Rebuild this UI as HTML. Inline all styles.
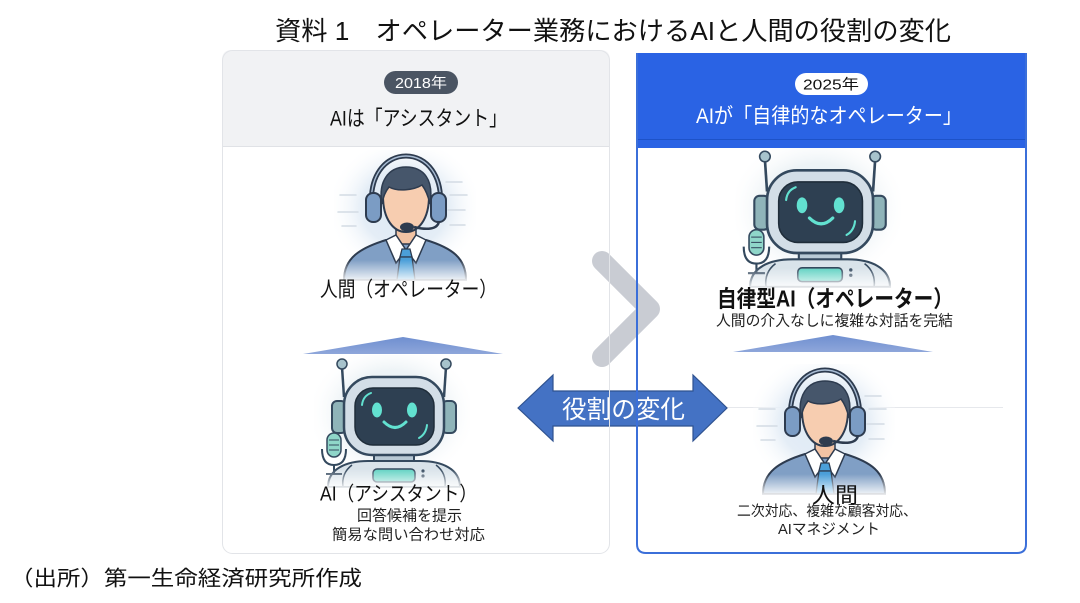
<!DOCTYPE html>
<html><head><meta charset="utf-8">
<style>
html,body{margin:0;padding:0;background:#fff;}
body{width:1080px;height:603px;overflow:hidden;}
svg{display:block;}
text{font-family:"Liberation Sans","Noto Sans CJK JP",sans-serif;}
</style></head>
<body>
<svg width="1080" height="603" viewBox="0 0 1080 603" xmlns="http://www.w3.org/2000/svg">
<defs>
  <radialGradient id="glowP" cx="50%" cy="45%" r="55%">
    <stop offset="0" stop-color="#dde9f4"/>
    <stop offset="0.55" stop-color="#e4edf6"/>
    <stop offset="1" stop-color="#ffffff" stop-opacity="0"/>
  </radialGradient>
  <radialGradient id="glowR" cx="50%" cy="45%" r="55%">
    <stop offset="0" stop-color="#e6eff3"/>
    <stop offset="0.6" stop-color="#edf3f6"/>
    <stop offset="1" stop-color="#ffffff" stop-opacity="0"/>
  </radialGradient>
  <linearGradient id="fade" x1="0" y1="0" x2="0" y2="1">
    <stop offset="0" stop-color="#ffffff" stop-opacity="0"/>
    <stop offset="1" stop-color="#ffffff" stop-opacity="0.95"/>
  </linearGradient>
  <linearGradient id="tri" x1="0" y1="0" x2="0" y2="1">
    <stop offset="0" stop-color="#6f8fd0"/>
    <stop offset="1" stop-color="#8ea6da"/>
  </linearGradient>

  <g id="person">
    <rect x="8" y="0" width="142" height="128" fill="url(#glowP)"/>
    <g stroke="#d3dbe4" stroke-width="1.5" stroke-linecap="round">
      <line x1="120" y1="32" x2="136" y2="32"/>
      <line x1="124" y1="45" x2="141" y2="45"/>
      <line x1="122" y1="60" x2="139" y2="60"/>
      <line x1="124" y1="75" x2="139" y2="75"/>
      <line x1="14" y1="45" x2="30" y2="45"/>
      <line x1="12" y1="62" x2="32" y2="62"/>
      <line x1="16" y1="76" x2="30" y2="76"/>
    </g>
    <path d="M18,130 C18,108 34,98 60,90 L100,90 C126,98 140,108 140,130 Z" fill="#809fc5" stroke="#2d3b4f" stroke-width="2"/>
    <path d="M70,78 L70,94 L90,94 L90,78 Z" fill="#f2c3a4" stroke="#2d3b4f" stroke-width="1.5"/>
    <polygon points="60,90 70,85 80,100 70,113" fill="#fff" stroke="#2d3b4f" stroke-width="1.5"/>
    <polygon points="100,90 90,85 80,100 90,113" fill="#fff" stroke="#2d3b4f" stroke-width="1.5"/>
    <polygon points="76,99 84,99 86,107 74,107" fill="#4b9fd9" stroke="#2d3b4f" stroke-width="1.3"/>
    <polygon points="74,107 86,107 89,130 71,130" fill="#4b9fd9" stroke="#2d3b4f" stroke-width="1.3"/>
    <path d="M57,46 C57,70 68,82 80,82 C92,82 103,70 103,46 C103,30 94,22 80,22 C66,22 57,30 57,46 Z" fill="#f7cdb0" stroke="#2d3b4f" stroke-width="2"/>
    <path d="M56,54 C52,32 62,17 80,17 C98,17 108,30 104,54 C102,45 99,39 96,35 C88,40 72,42 63,37 C59,42 57,47 56,54 Z" fill="#46566b" stroke="#2d3b4f" stroke-width="1.5"/>
    <path d="M46,60 C42,25 60,6 80,6 C100,6 118,25 114,60" fill="none" stroke="#2d3b4f" stroke-width="5"/>
    <path d="M46,60 C42,25 60,6 80,6 C100,6 118,25 114,60" fill="none" stroke="#a9bdd5" stroke-width="1.4"/>
    <rect x="40" y="43" width="15" height="29" rx="7" fill="#7b9cc4" stroke="#2d3b4f" stroke-width="2"/>
    <rect x="105" y="43" width="15" height="29" rx="7" fill="#7b9cc4" stroke="#2d3b4f" stroke-width="2"/>
    <path d="M113,71 C112,80 100,80 88,77" fill="none" stroke="#2d3b4f" stroke-width="2.5"/>
    <ellipse cx="81" cy="77" rx="7" ry="4.5" fill="#2d3b4f"/>
    <rect x="0" y="110" width="150" height="22" fill="url(#fade)"/>
  </g>

  <g id="robot">
    <rect x="4" y="0" width="156" height="130" fill="url(#glowR)"/>
    <line x1="32" y1="12" x2="34" y2="42" stroke="#34495e" stroke-width="2.5"/>
    <line x1="136" y1="12" x2="134" y2="42" stroke="#34495e" stroke-width="2.5"/>
    <circle cx="32" cy="9" r="5" fill="#a7c3cc" stroke="#34495e" stroke-width="1.5"/>
    <circle cx="136" cy="9" r="5" fill="#a7c3cc" stroke="#34495e" stroke-width="1.5"/>
    <rect x="22" y="46" width="14" height="32" rx="5" fill="#8fb4b9" stroke="#34495e" stroke-width="2"/>
    <rect x="132" y="46" width="14" height="32" rx="5" fill="#8fb4b9" stroke="#34495e" stroke-width="2"/>
    <rect x="64" y="96" width="40" height="14" fill="#b8c9d5" stroke="#34495e" stroke-width="2"/>
    <path d="M18,132 C18,114 36,106 58,106 L110,106 C132,106 150,114 150,132 Z" fill="#d9e3ea" stroke="#34495e" stroke-width="2"/>
    <path d="M42,110 C34,116 32,124 33,132" fill="none" stroke="#34495e" stroke-width="1.5"/>
    <path d="M126,110 C134,116 136,124 135,132" fill="none" stroke="#34495e" stroke-width="1.5"/>
    <rect x="63" y="114" width="42" height="13" rx="4" fill="#62d2c3" stroke="#34495e" stroke-width="1.5"/>
    <circle cx="113" cy="116" r="1.6" fill="#34495e"/>
    <circle cx="113" cy="121" r="1.6" fill="#34495e"/>
    <rect x="34" y="22" width="100" height="78" rx="28" fill="#d3dee7" stroke="#34495e" stroke-width="2.5"/>
    <rect x="45" y="33" width="79" height="57" rx="18" fill="#2e4052" stroke="#1f2d3a" stroke-width="1.5"/>
    <ellipse cx="67" cy="55" rx="5" ry="7.5" fill="#62e1d0"/>
    <ellipse cx="102" cy="55" rx="5" ry="7.5" fill="#62e1d0"/>
    <path d="M74,67 Q85,78 96,67" fill="none" stroke="#62e1d0" stroke-width="3" stroke-linecap="round"/>
    <path d="M52,50 Q53,41 61,38" fill="none" stroke="#62e1d0" stroke-width="2" stroke-linecap="round"/>
    <path d="M117,70 Q116,79 109,83" fill="none" stroke="#62e1d0" stroke-width="2" stroke-linecap="round"/>
    <path d="M12,94 Q12,110 24,110 Q36,110 36,94" fill="none" stroke="#34495e" stroke-width="2"/>
    <line x1="24" y1="110" x2="24" y2="119" stroke="#34495e" stroke-width="2"/>
    <line x1="16" y1="119" x2="32" y2="119" stroke="#34495e" stroke-width="2"/>
    <rect x="17" y="78" width="14" height="24" rx="7" fill="#8fd6c9" stroke="#34495e" stroke-width="1.5"/>
    <g stroke="#34495e" stroke-width="1"><line x1="19" y1="85" x2="29" y2="85"/><line x1="19" y1="90" x2="29" y2="90"/><line x1="19" y1="95" x2="29" y2="95"/></g>
    <rect x="0" y="114" width="160" height="20" fill="url(#fade)"/>
  </g>
</defs>

<rect width="1080" height="603" fill="#fff"/>

<!-- Title -->
<text x="275" y="40" font-size="26" fill="#111" textLength="676" lengthAdjust="spacingAndGlyphs" xml:space="preserve">資料 1　オペレーター業務におけるAIと人間の役割の変化</text>

<!-- Left panel -->
<rect x="222" y="50" width="388" height="504" rx="10" fill="#fff"/>
<path d="M222,146 L222,60 Q222,50 232,50 L600,50 Q610,50 610,60 L610,146 Z" fill="#f1f2f4"/>
<line x1="222" y1="146.5" x2="610" y2="146.5" stroke="#e0e2e6" stroke-width="1"/>

<!-- Right panel background -->
<path d="M636,53 L1027,53 L1027,544 Q1027,554 1017,554 L646,554 Q636,554 636,544 Z" fill="#fff"/>

<!-- faint line right panel -->
<line x1="640" y1="407.5" x2="1003" y2="407.5" stroke="#e6e8ec" stroke-width="1"/>

<!-- Triangles -->
<polygon points="303,354 403,337 503,354" fill="url(#tri)"/>
<polygon points="733,352 833,335 933,352" fill="url(#tri)"/>

<!-- Icons -->
<use href="#person" transform="translate(326,150)"/>
<use href="#robot" transform="translate(310,355)"/>
<use href="#robot" transform="translate(731,147) scale(1.06)"/>
<use href="#person" transform="translate(745,364)"/>

<!-- Right header (drawn after icons) -->
<rect x="636" y="53" width="391" height="95" fill="#2a63e4"/>
<line x1="636" y1="139.5" x2="1027" y2="139.5" stroke="#1d52c8" stroke-width="1"/>

<!-- Pills / headers -->
<rect x="384" y="71" width="74" height="23" rx="11.5" fill="#4b5563"/>
<text x="395" y="88" font-size="14.5" fill="#fff" textLength="52" lengthAdjust="spacingAndGlyphs">2018年</text>
<text x="330" y="125.5" font-size="21" fill="#111" textLength="177" lengthAdjust="spacingAndGlyphs">AIは「アシスタント」</text>

<rect x="795" y="73" width="73" height="22" rx="11" fill="#fff"/>
<text x="803" y="89.5" font-size="14.5" fill="#111" textLength="56" lengthAdjust="spacingAndGlyphs">2025年</text>
<text x="696" y="123" font-size="21" fill="#fff" textLength="266" lengthAdjust="spacingAndGlyphs">AIが「自律的なオペレーター」</text>

<!-- Left texts -->
<text x="320" y="296.5" font-size="21" fill="#111" textLength="177" lengthAdjust="spacingAndGlyphs">人間（オペレーター）</text>
<text x="320" y="500.5" font-size="20" fill="#111" textLength="157" lengthAdjust="spacingAndGlyphs">AI（アシスタント）</text>
<text x="357" y="520.5" font-size="15" fill="#222" textLength="105" lengthAdjust="spacingAndGlyphs">回答候補を提示</text>
<text x="332" y="539.5" font-size="15" fill="#222" textLength="153" lengthAdjust="spacingAndGlyphs">簡易な問い合わせ対応</text>

<!-- Right texts -->
<text x="717" y="306.5" font-size="23" font-weight="bold" fill="#111" textLength="236" lengthAdjust="spacingAndGlyphs">自律型AI（オペレーター）</text>
<text x="716" y="325.5" font-size="15" fill="#222" textLength="237" lengthAdjust="spacingAndGlyphs">人間の介入なしに複雑な対話を完結</text>
<text x="812" y="503" font-size="22" fill="#111" textLength="46" lengthAdjust="spacingAndGlyphs">人間</text>
<text x="737" y="516" font-size="14.5" fill="#222" textLength="180" lengthAdjust="spacingAndGlyphs">二次対応、複雑な顧客対応、</text>
<text x="778" y="534" font-size="15" fill="#222" textLength="102" lengthAdjust="spacingAndGlyphs">AIマネジメント</text>

<!-- Chevron -->
<polyline points="602,261 650,309 602,357" fill="none" stroke="#c9ccd3" stroke-width="20" stroke-linecap="round" stroke-linejoin="round"/>

<!-- Double arrow -->
<polygon points="518,408 553,375 553,391 693,391 693,375 727,408 693,441 693,426 553,426 553,441" fill="#4472c4" stroke="#2f528f" stroke-width="1.2" stroke-linejoin="miter"/>
<text x="562" y="418" font-size="25" fill="#fff" textLength="123" lengthAdjust="spacingAndGlyphs">役割の変化</text>

<!-- Panel borders on top -->
<rect x="222.5" y="50.5" width="387" height="503" rx="10" fill="none" stroke="#e2e4e8" stroke-width="1"/>
<path d="M637,53 L637,544 Q637,553 646,553 L1017,553 Q1026,553 1026,544 L1026,53" fill="none" stroke="#3b6fd9" stroke-width="2"/>

<!-- Footer -->
<text x="10" y="585.5" font-size="21" fill="#111" textLength="352" lengthAdjust="spacingAndGlyphs">（出所）第一生命経済研究所作成</text>
</svg>
</body></html>
